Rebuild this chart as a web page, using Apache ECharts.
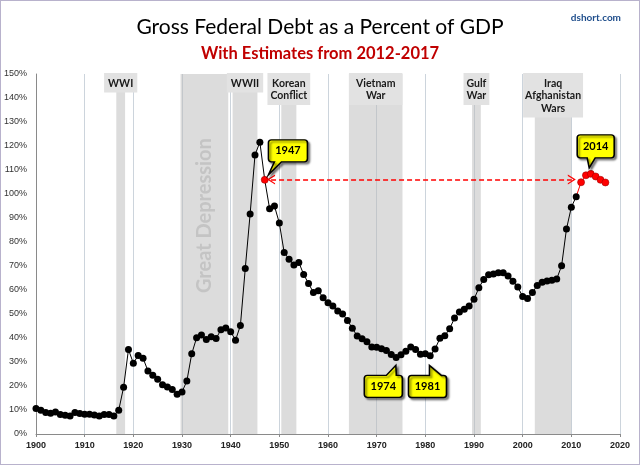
<!DOCTYPE html>
<html>
<head>
<meta charset="utf-8">
<script src="https://cdn.jsdelivr.net/npm/echarts@6/dist/echarts.min.js"></script>
<style>
html,body{margin:0;padding:0;background:#fff;}
#wrap{position:relative;width:640px;height:465px;}
#chart{position:absolute;left:0;top:0;width:640px;height:465px;}
#frame{position:absolute;left:0;top:0;width:640px;height:465px;box-sizing:border-box;border:1px solid #b8b2cc;pointer-events:none;}
</style>
</head>
<body>
<div id="wrap"><div id="chart"></div><div id="frame"></div></div>
<script>
// ---- data ----
const firstYear = 1900;
const actualValues = [
  10.6, 9.9, 9.0, 8.6, 9.2, 8.1, 7.8, 7.5, 9.0, 8.5,      // 1900-1909
  8.2, 8.2, 7.9, 7.5, 8.1, 8.1, 7.5, 9.9, 19.5, 35.2,     // 1910-1919
  29.5, 32.7, 31.6, 26.3, 24.5, 22.8, 20.5, 19.6, 18.5, 16.6, // 1920-1929
  17.5, 22.1, 33.4, 40.1, 41.2, 39.4, 40.5, 39.8, 43.4, 44.2, // 1930-1939
  42.6, 39.1, 45.2, 69.0, 91.7, 116.3, 121.6, 105.9, 93.9, 95.0, // 1940-1949
  87.9, 75.6, 72.8, 70.4, 71.5, 66.5, 62.7, 59.0, 59.7, 56.8, // 1950-1959
  54.7, 53.3, 51.3, 50.0, 47.3, 44.1, 40.8, 39.7, 38.4, 36.2, // 1960-1969
  36.1, 35.5, 34.8, 33.1, 31.9, 33.0, 34.5, 36.2, 35.2, 33.2, // 1970-1979
  33.4, 32.6, 35.4, 39.9, 40.9, 43.9, 48.3, 50.8, 52.0, 53.3, // 1980-1989
  56.1, 60.9, 64.4, 66.4, 66.7, 67.2, 67.2, 65.8, 63.6, 61.2, // 1990-1999
  57.3, 56.5, 59.0, 61.9, 63.2, 63.7, 64.1, 64.6, 70.1, 85.4, // 2000-2009
  94.5, 98.9                                                  // 2010-2011
];
const estimateYears = [2012, 2013, 2014, 2015, 2016, 2017];
const estimateValues = [104.9, 107.8, 108.4, 107.3, 105.9, 104.8];

const bandNames = ['WWI', 'Great Depression', 'WWII', 'Korean\nConflict', 'Vietnam\nWar', 'Gulf\nWar', 'Iraq\nAfghanistan\nWars'];
const bandStart = [1916.5, 1929.7, 1940.4, 1950.4, 1964.3, 1989.6, 2002.5];
const bandEnd   = [1918.3, 1939.5, 1945.5, 1953.5, 1975.3, 1991.4, 2010.0];

const calloutYears = [1947, 1974, 1981, 2014];
const arrowRange = [1948.3, 2010.1];
const arrowLevel = 106;
const highlightYear = 1947;

const titleText = 'Gross Federal Debt as a Percent of GDP';
const subtitleText = 'With Estimates from 2012-2017';
const sourceText = 'dshort.com';
const xTicks = {min: 1900, max: 2020, step: 10};
const yTicks = {min: 0, max: 150, step: 10};

// ---- build ----
function valueOf(year) {
  const i = year - firstYear;
  if (i >= 0 && i < actualValues.length) return actualValues[i];
  return estimateValues[estimateYears.indexOf(year)];
}

const lastActualYear = firstYear + actualValues.length - 1;

const actualData = actualValues.map((v, i) => {
  const yr = firstYear + i;
  if (yr === highlightYear) {
    return {value: [yr, v], itemStyle: {color: '#ff0000', borderColor: '#a00000', borderWidth: 0.6}};
  }
  return [yr, v];
});
const estimateData = [{value: [lastActualYear, valueOf(lastActualYear)], symbol: 'none'}]
  .concat(estimateYears.map((y, i) => [y, estimateValues[i]]));

const calloutStyle = {
  color: '#ffff00', borderColor: '#000', borderWidth: 1.5,
  shadowColor: 'rgba(0,0,0,0.45)', shadowBlur: 2, shadowOffsetX: 2, shadowOffsetY: 2
};
const calloutShapes = {
  1947: {path: 'path://M3,0 L36,0 Q39,0 39,3 L39,19 Q39,22 36,22 L13,22 L0,35 L6,22 L3,22 Q0,22 0,19 L0,3 Q0,0 3,0 Z',
         size: [39, 35], offset: [23.2, -22.5], labelOffset: [0, -6.5]},
  1974: {path: 'path://M3,10 L22,10 L31.5,0 L32,10 L35,10 Q38,10 38,13 L38,29 Q38,32 35,32 L3,32 Q0,32 0,29 L0,13 Q0,10 3,10 Z',
         size: [38, 32], offset: [-12.8, 23.9], labelOffset: [0, 5]},
  1981: {path: 'path://M3,10 L21,10 L21,0 L33,10 L35,10 Q38,10 38,13 L38,29 Q38,32 35,32 L3,32 Q0,32 0,29 L0,13 Q0,10 3,10 Z',
         size: [38, 32], offset: [-2.7, 25.7], labelOffset: [0, 5]},
  2014: {path: 'path://M3,0 L34,0 Q37,0 37,3 L37,20 Q37,23 34,23 L18,23 L12,33 L10,23 L3,23 Q0,23 0,20 L0,3 Q0,0 3,0 Z',
         size: [37, 33], offset: [4.9, -22.5], labelOffset: [0, -5]}
};
function callout(year) {
  const s = calloutShapes[year];
  return {
    coord: [year, valueOf(year)],
    symbol: s.path, symbolSize: s.size, symbolOffset: s.offset, symbolKeepAspect: false,
    itemStyle: calloutStyle,
    label: {show: true, position: 'inside', formatter: String(year), offset: s.labelOffset,
            color: '#000', fontWeight: 'bold', fontSize: 11, fontFamily: 'Lato'}
  };
}

const labelPads = {
  'WWI': [4, 4, 3, 4], 'WWII': [4, 4, 3, 4], 'Korean\nConflict': [4, 3, 3, 3],
  'Vietnam\nWar': [4, 7, 3, 7], 'Gulf\nWar': [4, 3, 3, 3], 'Iraq\nAfghanistan\nWars': [4, 2, 3, 2]
};
const bandData = bandNames.map((n, i) => {
  const hasBox = n !== 'Great Depression';
  return [
    {xAxis: bandStart[i], name: n,
     label: hasBox ? {show: true, position: 'insideTop', distance: 0, offset: [0, -1],
       backgroundColor: '#e2e2e2', padding: labelPads[n], color: '#1a1a1a', fontWeight: 'bold',
       fontSize: 10.5, lineHeight: 12.5, fontFamily: 'Lato', align: 'center'} : {show: false}},
    {xAxis: bandEnd[i]}
  ];
});

const chevron = 'path://M0,9 L5,0 L10,9 L8.6,9 L5,2.6 L1.4,9 Z';

const chart = echarts.init(document.getElementById('chart'), null, {renderer: 'canvas'});
chart.setOption({
  animation: false,
  backgroundColor: '#ffffff',
  title: [
    {text: titleText, left: 'center', top: 12,
     textStyle: {fontFamily: 'Lato', fontSize: 21, fontWeight: 'normal', color: '#000'}},
    {text: subtitleText, left: 'center', top: 40,
     textStyle: {fontFamily: 'Lato', fontSize: 16.5, fontWeight: 'bold', color: '#c00000'}},
    {text: sourceText, right: 14, top: 8,
     textStyle: {fontFamily: 'Lato', fontSize: 10, fontWeight: 'bold', color: '#1f4e8c'}}
  ],
  grid: {left: 36, right: 20, top: 74, bottom: 31},
  xAxis: {
    type: 'value', min: xTicks.min, max: xTicks.max, interval: xTicks.step,
    axisLine: {show: true, lineStyle: {color: '#8a8a8a', width: 1}},
    axisTick: {show: true, length: 3, lineStyle: {color: '#8a8a8a'}},
    axisLabel: {fontFamily: 'Liberation Sans', fontSize: 9, fontWeight: 'bold', color: '#222', margin: 7,
                formatter: v => String(v)},
    splitLine: {show: true, lineStyle: {color: '#ccd4dc', width: 1}}
  },
  yAxis: {
    type: 'value', min: yTicks.min, max: yTicks.max, interval: yTicks.step,
    axisLine: {show: true, lineStyle: {color: '#8a8a8a', width: 1}},
    axisTick: {show: false},
    axisLabel: {fontFamily: 'Liberation Sans', fontSize: 9, color: '#333', margin: 9, formatter: '{value}%'},
    splitLine: {show: false}
  },
  series: [
    {
      name: 'bands', type: 'line', data: [], silent: true, z: 1,
      markArea: {silent: true, itemStyle: {color: 'rgba(185,185,185,0.5)'}, data: bandData}
    },
    {
      name: 'Estimates', type: 'line', data: estimateData, z: 3,
      symbol: 'circle', symbolSize: 7, showAllSymbol: true,
      lineStyle: {color: '#ff0000', width: 1},
      itemStyle: {color: '#ff0000', borderColor: '#a00000', borderWidth: 0.6},
      markPoint: {silent: true, data: [callout(2014)]}
    },
    {
      name: 'Actual', type: 'line', data: actualData, z: 4,
      symbol: 'circle', symbolSize: 7, showAllSymbol: true,
      lineStyle: {color: '#000', width: 1},
      itemStyle: {color: '#000'},
      markLine: {
        silent: true, symbol: [chevron, chevron], symbolSize: [10, 8],
        lineStyle: {color: '#ff0000', type: [5, 3], width: 1.5},
        label: {show: false},
        data: [[{coord: [arrowRange[0], arrowLevel]}, {coord: [arrowRange[1], arrowLevel]}]]
      },
      markPoint: {silent: true, data: [callout(1947), callout(1974), callout(1981)]}
    }
  ]
});

const gdIdx = bandNames.indexOf('Great Depression');
const gdPos = chart.convertToPixel({gridIndex: 0}, [(bandStart[gdIdx] + bandEnd[gdIdx]) / 2, 91]);
chart.setOption({
  graphic: [{
    type: 'text', x: gdPos[0], y: gdPos[1], rotation: Math.PI / 2, z: 10, silent: true,
    style: {text: 'Great Depression', fill: '#c4c4c4', font: 'bold 20px Lato', align: 'center', verticalAlign: 'middle'}
  }]
});
</script>
</body>
</html>
